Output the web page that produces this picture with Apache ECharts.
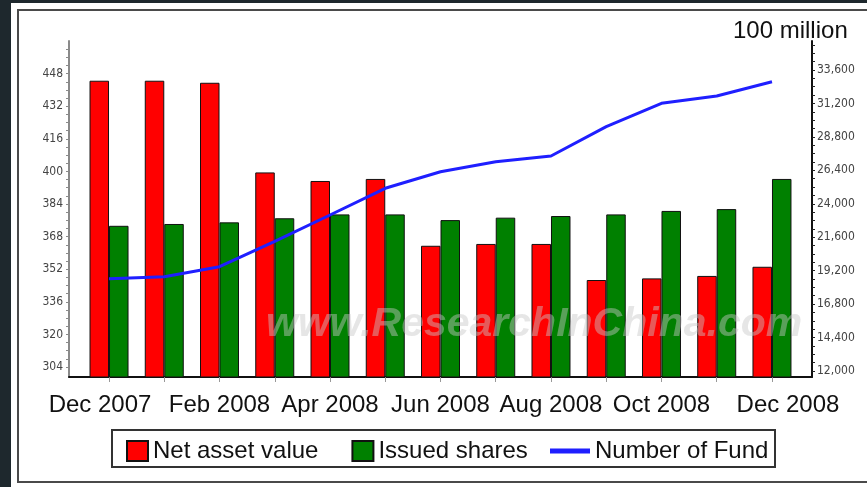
<!DOCTYPE html>
<html>
<head>
<meta charset="utf-8">
<script src="https://cdn.jsdelivr.net/npm/echarts@6/dist/echarts.min.js"></script>
<style>
  html, body { margin: 0; padding: 0; background: #1e282d; }
  .panel { position: absolute; left: 11px; top: 3px; width: 900px; height: 500px; background: #fff; }
  .frame { position: absolute; left: 17px; top: 9px; width: 900px; height: 470px; border: 2px solid #4a4a4a; }
  #chart { position: absolute; left: 0; top: 0; width: 867px; height: 487px; }
</style>
</head>
<body>
<div class="panel"></div>
<div class="frame"></div>
<div id="chart"></div>
<script>
// values (100 million / number of funds)
const months = ['Dec 2007', 'Jan 2008', 'Feb 2008', 'Mar 2008', 'Apr 2008', 'May 2008', 'Jun 2008',
  'Jul 2008', 'Aug 2008', 'Sep 2008', 'Oct 2008', 'Nov 2008', 'Dec 2008']
const netAssetValue = [444.5, 444.5, 443.5, 399.5, 395.3, 396.3, 363.5, 364.4, 364.4, 346.7, 347.5, 348.7, 353.2]
const issuedShares = [373.3, 374.2, 375.0, 377.0, 378.9, 378.9, 376.1, 377.3, 378.1, 378.9, 380.6, 381.5, 396.3]
const numberOfFund = [18624, 18767, 19485, 21307, 23194, 25111, 26302, 27020, 27428, 29531, 31209, 31734, 32760]
const leftTicks = [304, 320, 336, 352, 368, 384, 400, 416, 432, 448]
const rightTicks = [12000, 14400, 16800, 19200, 21600, 24000, 26400, 28800, 31200, 33600]

// minor tick marks between the labelled ones
function withMinor(ticks, parts) {
  const step = (ticks[1] - ticks[0]) / parts
  const out = []
  ticks.forEach(t => { for (let k = 0; k < parts; k++) out.push(t + k * step) })
  return out
}

const chart = echarts.init(document.getElementById('chart'), null, { renderer: 'canvas' })

const axisFont = "'Liberation Sans Narrow', 'DejaVu Sans Condensed', 'Liberation Sans', sans-serif"

const option = {
  animation: false,
  textStyle: { fontFamily: "'Liberation Sans', Arial, sans-serif" },
  grid: [
    { left: 81.4, right: 67.4, top: 41, bottom: 110 },
    { left: 69, right: 55, top: 41, bottom: 110 }
  ],
  xAxis: [
    {
      type: 'category',
      gridIndex: 0,
      data: months.map((m, i) => {
        if (i === 0) return { value: m, textStyle: { padding: [0, 18, 0, 0] } }
        if (i === months.length - 1) return { value: m, textStyle: { padding: [0, 0, 0, 32] } }
        return m
      }),
      axisLine: { lineStyle: { color: '#111', width: 2 } },
      axisTick: { show: true, alignWithLabel: true, interval: 0, length: 5, lineStyle: { color: '#999' } },
      axisLabel: { interval: 1, fontSize: 24, color: '#111', margin: 16 }
    },
    {
      type: 'value',
      gridIndex: 1,
      min: 0,
      max: 1,
      axisLine: { onZero: false, lineStyle: { color: '#111', width: 2 } },
      axisTick: { show: false },
      axisLabel: { show: false },
      splitLine: { show: false }
    }
  ],
  yAxis: [
    {
      type: 'value',
      gridIndex: 0,
      position: 'left',
      offset: 12.4,
      min: 299.1,
      max: 464,
      axisLine: { show: true, lineStyle: { color: '#8a8a8a', width: 2 } },
      axisTick: { show: true, customValues: withMinor(leftTicks, 4), length: 3, lineStyle: { color: '#8a8a8a' } },
      axisLabel: { customValues: leftTicks, fontSize: 12, color: '#444', fontFamily: axisFont, margin: 6 },
      splitLine: { show: false }
    },
    {
      type: 'value',
      gridIndex: 0,
      position: 'right',
      offset: 12.4,
      min: 11569,
      max: 35681,
      axisLine: { show: true, lineStyle: { color: '#111', width: 2 } },
      axisTick: { show: true, customValues: withMinor(rightTicks, 4), length: 3, lineStyle: { color: '#222' } },
      axisLabel: {
        customValues: rightTicks, fontSize: 12, color: '#444', fontFamily: axisFont, margin: 5,
        formatter: v => v.toLocaleString('en-US')
      },
      splitLine: { show: false }
    },
    { type: 'value', gridIndex: 1, show: false, min: 0, max: 1 }
  ],
  legend: [
    {
      data: [
        { name: 'Net asset value', icon: 'rect' },
        { name: 'Issued shares', icon: 'rect' }
      ],
      left: 121,
      top: 434,
      itemWidth: 21,
      itemHeight: 20,
      itemGap: 33,
      textStyle: { fontSize: 24, color: '#111' }
    },
    {
      data: [{ name: 'Number of Fund', icon: 'rect' }],
      left: 545,
      top: 434,
      itemWidth: 40,
      itemHeight: 5,
      textStyle: { fontSize: 24, color: '#111' }
    }
  ],
  graphic: [
    {
      type: 'rect',
      shape: { x: 112, y: 430, width: 663, height: 37 },
      style: { fill: 'none', stroke: '#333', lineWidth: 2 },
      silent: true
    },
    {
      type: 'text',
      left: 733,
      top: 19,
      style: { text: '100 million', fontSize: 24, fill: '#111', fontFamily: "'Liberation Sans', Arial, sans-serif" }
    },
    {
      type: 'text',
      left: 266,
      top: 304,
      z: 100,
      style: {
        text: 'www.ResearchInChina.com',
        fontSize: 41,
        fontStyle: 'italic',
        fontWeight: 'bold',
        fontFamily: "'Liberation Sans', Arial, sans-serif",
        fill: 'rgba(200,200,200,0.45)'
      }
    }
  ],
  series: [
    {
      name: 'Net asset value',
      type: 'bar',
      xAxisIndex: 0,
      yAxisIndex: 0,
      data: netAssetValue,
      barWidth: 19.5,
      barGap: '0%',
      itemStyle: { color: '#ff0000', borderColor: '#111', borderWidth: 1 }
    },
    {
      name: 'Issued shares',
      type: 'bar',
      xAxisIndex: 0,
      yAxisIndex: 0,
      data: issuedShares,
      barWidth: 19.5,
      barGap: '0%',
      itemStyle: { color: '#008000', borderColor: '#111', borderWidth: 1 }
    },
    {
      name: 'Number of Fund',
      type: 'line',
      xAxisIndex: 0,
      yAxisIndex: 1,
      data: numberOfFund,
      showSymbol: false,
      z: 5,
      lineStyle: { color: '#1f1fff', width: 3 },
      itemStyle: { color: '#1f1fff' }
    }
  ]
}

chart.setOption(option)
</script>
</body>
</html>
